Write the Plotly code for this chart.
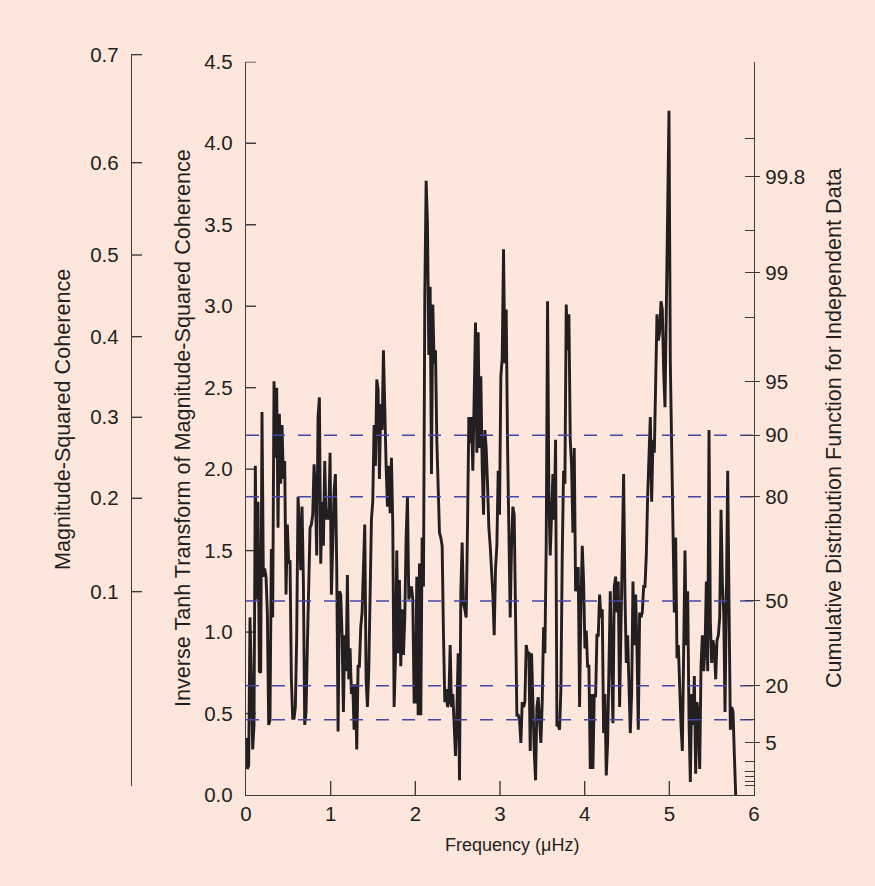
import numpy as np
import plotly.graph_objects as go

# Spacing of the spectral estimates along the frequency axis (µHz)
FREQ_STEP = 0.01576

# Inverse-tanh transform of the magnitude-squared coherence, one value per bin
inv_tanh_msc = [
    0.35, 0.16, 0.18, 1.09, 0.73, 0.28, 0.43, 2.02, 1.20, 1.80,
    0.76, 0.75, 2.35, 1.34, 1.39, 1.34, 1.12, 0.43, 0.46, 1.51,
    1.09, 2.54, 2.07, 2.50, 1.64, 2.34, 1.91, 2.27, 1.94, 2.05,
    1.23, 1.66, 1.42, 1.44, 0.71, 0.47, 0.47, 0.54, 0.98, 1.83,
    1.64, 1.38, 1.77, 1.31, 0.43, 0.51, 0.92, 1.23, 1.64, 1.66,
    1.72, 2.03, 1.86, 1.47, 2.32, 2.44, 1.42, 1.80, 1.53, 2.05,
    1.69, 1.75, 1.69, 2.10, 1.23, 1.53, 1.86, 1.97, 1.39, 0.39,
    1.25, 1.23, 0.98, 0.51, 0.98, 0.76, 1.35, 0.71, 0.90, 0.62,
    0.68, 0.40, 0.68, 0.28, 0.79, 0.79, 1.03, 1.12, 1.39, 1.66,
    0.71, 0.54, 0.76, 1.28, 1.69, 1.80, 2.27, 2.02, 2.55, 2.49,
    1.94, 2.40, 2.24, 2.73, 2.24, 2.02, 1.77, 2.02, 1.73, 2.07,
    1.66, 0.54, 0.84, 1.50, 0.87, 1.32, 0.79, 1.14, 0.86, 1.09,
    1.58, 1.83, 1.20, 1.25, 1.28, 1.20, 0.57,
    0.57, 1.34, 0.49, 1.42, 0.49, 1.58, 1.28, 3.06, 3.77, 3.50,
    2.70, 3.12, 1.97, 3.01, 2.65, 2.73, 2.18, 1.86, 1.61, 1.58,
    1.53, 0.98, 0.57, 0.65, 0.54, 0.57, 0.92, 0.54, 0.62, 0.43,
    0.24, 0.49, 0.87, 0.09, 1.25, 1.55, 1.17, 1.14, 1.09, 1.64,
    2.32, 2.16, 2.32, 1.99, 2.35, 2.90, 2.10, 2.84, 2.13, 2.57,
    2.02, 1.72, 2.24, 2.13, 1.91, 1.64, 1.53, 1.39, 1.23, 0.98,
    1.39, 1.53, 1.99, 1.72, 2.57, 2.68, 3.35, 2.65, 2.98, 2.16,
    1.53, 1.09, 1.53, 1.77, 1.72, 1.20, 0.49, 0.49, 0.46, 0.32,
    0.57, 0.54, 0.57, 0.92, 0.87, 0.87, 0.27, 0.87, 0.49, 0.27,
    0.09, 0.54, 0.60, 0.49, 0.32, 0.57, 1.03, 0.87, 1.55, 3.03,
    1.83, 1.47, 1.80, 1.97, 1.69, 2.18, 0.43, 0.43, 0.40, 0.65,
    1.47, 1.99, 1.91, 3.01, 2.73, 2.95, 2.18, 2.02, 1.61, 2.13,
    1.25, 1.39, 1.39, 0.54, 1.17, 1.53, 1.31, 0.90,
    1.01, 0.79, 0.79, 0.16, 0.62, 0.16, 0.62, 0.60, 0.98, 0.98,
    1.23, 1.09, 1.14, 0.38, 0.62, 0.12, 0.32, 0.84, 1.25, 0.81,
    0.44, 1.28, 1.34, 1.12, 1.31, 0.54, 0.95, 1.34, 1.97, 1.23,
    0.81, 0.98, 0.71, 0.38, 0.62, 1.31, 0.92, 1.23, 0.90, 0.40,
    1.12, 1.09, 1.12, 1.28, 1.28, 1.47, 1.83, 2.07, 2.32, 1.80,
    2.18, 2.10, 2.68, 2.95, 2.79, 2.84, 3.03, 2.98, 2.60, 2.38,
    2.98, 3.47, 4.20, 2.65, 2.07, 1.75, 1.12, 1.58, 0.84, 0.92,
    0.65, 0.43, 0.27, 0.98, 1.50, 0.92, 1.25, 0.46, 0.08, 0.62,
    0.43, 0.73, 0.13, 0.57, 0.49, 0.16, 0.79, 0.98, 0.76, 0.90,
    1.31, 0.76, 2.24, 1.06, 0.81, 0.95, 0.90, 0.71, 0.95, 0.98,
    1.09, 1.75, 1.31, 1.12, 0.51, 1.20, 1.99, 1.17, 0.40, 0.54,
    0.51, 0.24, 0.00,
]
freq = np.arange(len(inv_tanh_msc)) * FREQ_STEP

# Frequency ticks (µHz) and transform-scale ticks
freq_ticks = [0, 1, 2, 3, 4, 5, 6]
z_ticks = [0.0, 0.5, 1.0, 1.5, 2.0, 2.5, 3.0, 3.5, 4.0, 4.5]

# Magnitude-squared coherence scale (left outer axis), placed on the transform scale
msc_labels = ["0.1", "0.2", "0.3", "0.4", "0.5", "0.6", "0.7"]
msc_tick_z = [1.248, 1.821, 2.318, 2.813, 3.314, 3.881, 4.544]
msc_axis_range = [0.055, 4.548]

# Cumulative distribution scale (right axis), placed on the transform scale
cdf_labels = ["99.8", "99", "95", "90", "80", "50", "20", "5"]
cdf_label_z = [3.795, 3.206, 2.538, 2.208, 1.831, 1.191, 0.671, 0.321]
cdf_minor_z = [4.028, 3.463, 2.931, 0.462, 0.204, 0.143, 0.112, 0.082, 0.057]

# Percentile levels marked with dashed lines
level_pct = [90, 80, 50, 20, 10]
level_z = [2.208, 1.831, 1.191, 0.671, 0.462]

BG = "#fde6dc"
INK = "#231f20"
AXIS = "#3c3c3c"
DASH = "#4646a8"
FONT = "Liberation Sans, Arial, Helvetica, sans-serif"
TICK_SIZE = 20.5

# Figure geometry (px) used to size the inward tick marks
WIDTH, HEIGHT = 875, 886
MARGIN = dict(l=132, r=121, t=54, b=91)
X_DOMAIN = [0.18328, 1.0]
Y_DOMAIN = [0.0, 0.98947]
X2_DOMAIN = [0.0, 0.05]
plot_w = WIDTH - MARGIN["l"] - MARGIN["r"]
plot_h = HEIGHT - MARGIN["t"] - MARGIN["b"]
px_per_freq = plot_w * (X_DOMAIN[1] - X_DOMAIN[0]) / 6.0
px_per_z = plot_h * (Y_DOMAIN[1] - Y_DOMAIN[0]) / 4.5
px_per_x2 = plot_w * (X2_DOMAIN[1] - X2_DOMAIN[0])


def tick_marks(values, length, vertical):
    """Short segments starting on an axis line, one per tick value."""
    a, b = [], []
    for v in values:
        a += [v, v, None]
        b += [0, length, None]
    return (a, b) if vertical else (b, a)


fig = go.Figure()

# Percentile reference lines, drawn against the cumulative-distribution axis
for pct, z in zip(level_pct, level_z):
    fig.add_trace(go.Scatter(
        x=[0, 6], y=[z, z], xaxis="x", yaxis="y2", mode="lines",
        line=dict(color=DASH, width=1.5, dash="13px,13px"),
        name=f"{pct}%", showlegend=False, hoverinfo="skip",
    ))

# Empty trace that registers the right-hand tick axis
fig.add_trace(go.Scatter(x=[], y=[], xaxis="x", yaxis="y4",
                         showlegend=False, hoverinfo="skip"))

tick_style = dict(mode="lines", line=dict(color=AXIS, width=1.4),
                  showlegend=False, hoverinfo="skip")
# inward marks on the transform axis
tx, ty = tick_marks(z_ticks[1:], 10 / px_per_freq, vertical=False)
fig.add_trace(go.Scatter(x=tx, y=ty, xaxis="x", yaxis="y", **tick_style))
# inward marks on the frequency axis
tx, ty = tick_marks(freq_ticks[1:-1], 14 / px_per_z, vertical=True)
fig.add_trace(go.Scatter(x=tx, y=ty, xaxis="x", yaxis="y", **tick_style))
# inward marks on the coherence axis
tx, ty = tick_marks(msc_tick_z, 10 / px_per_x2, vertical=False)
fig.add_trace(go.Scatter(x=tx, y=ty, xaxis="x2", yaxis="y3", cliponaxis=False,
                         **tick_style))

fig.add_trace(go.Scatter(
    x=freq, y=inv_tanh_msc, xaxis="x", yaxis="y", mode="lines",
    line=dict(color=INK, width=2.9),
    showlegend=False, hoverinfo="skip",
))

lined = dict(showgrid=False, zeroline=False, showline=True,
             linecolor=AXIS, linewidth=1.4, tickcolor=AXIS, tickwidth=1.4,
             tickfont=dict(family=FONT, size=TICK_SIZE, color=INK))

fig.update_layout(
    width=WIDTH, height=HEIGHT, margin=MARGIN,
    paper_bgcolor=BG, plot_bgcolor="rgba(0,0,0,0)",
    font=dict(family=FONT, size=TICK_SIZE, color=INK),
    xaxis=dict(domain=X_DOMAIN, range=[0, 6], tickvals=freq_ticks,
               ticks="", anchor="y", **lined),
    yaxis=dict(domain=Y_DOMAIN, range=[0, 4.5], tickvals=z_ticks,
               tickformat=".1f", ticks="", anchor="x", ticklabelstandoff=8, **lined),
    yaxis2=dict(overlaying="y", side="right", anchor="x", range=[0, 4.5],
                tickvals=cdf_label_z, ticktext=cdf_labels,
                ticks="outside", ticklen=5, ticklabelstandoff=1, **lined),
    yaxis4=dict(overlaying="y", side="right", anchor="x", range=[0, 4.5],
                tickvals=cdf_label_z + cdf_minor_z, ticks="inside", ticklen=9,
                showticklabels=False, showgrid=False, zeroline=False, showline=False,
                tickcolor=AXIS, tickwidth=1.4),
    xaxis2=dict(domain=X2_DOMAIN, anchor="y3", range=[0, 1], visible=False),
    yaxis3=dict(domain=[0.01215, 1], anchor="x2", side="left", range=msc_axis_range,
                tickvals=msc_tick_z, ticktext=msc_labels,
                ticks="", ticklabelstandoff=8, **lined),
)

title_font = dict(family=FONT, size=21.6, color=INK)
fig.add_annotation(text="Magnitude-Squared Coherence", xref="paper", yref="paper",
                   x=-0.1125, y=0.506, textangle=-90, showarrow=False,
                   xanchor="center", yanchor="middle", font=title_font)
fig.add_annotation(text="Inverse Tanh Transform of Magnitude-Squared Coherence",
                   xref="paper", yref="paper", x=0.082, y=0.4953, textangle=-90,
                   showarrow=False, xanchor="center", yanchor="middle", font=title_font)
fig.add_annotation(text="Cumulative Distribution Function for Independent Data",
                   xref="paper", yref="paper", x=1.127, y=0.4966, textangle=-90,
                   showarrow=False, xanchor="center", yanchor="middle", font=title_font)
fig.add_annotation(text="Frequency (μHz)", xref="paper", yref="paper",
                   x=0.611, y=-0.0675, showarrow=False,
                   xanchor="center", yanchor="middle",
                   font=dict(family=FONT, size=18, color=INK))

fig.write_html("out.html")
